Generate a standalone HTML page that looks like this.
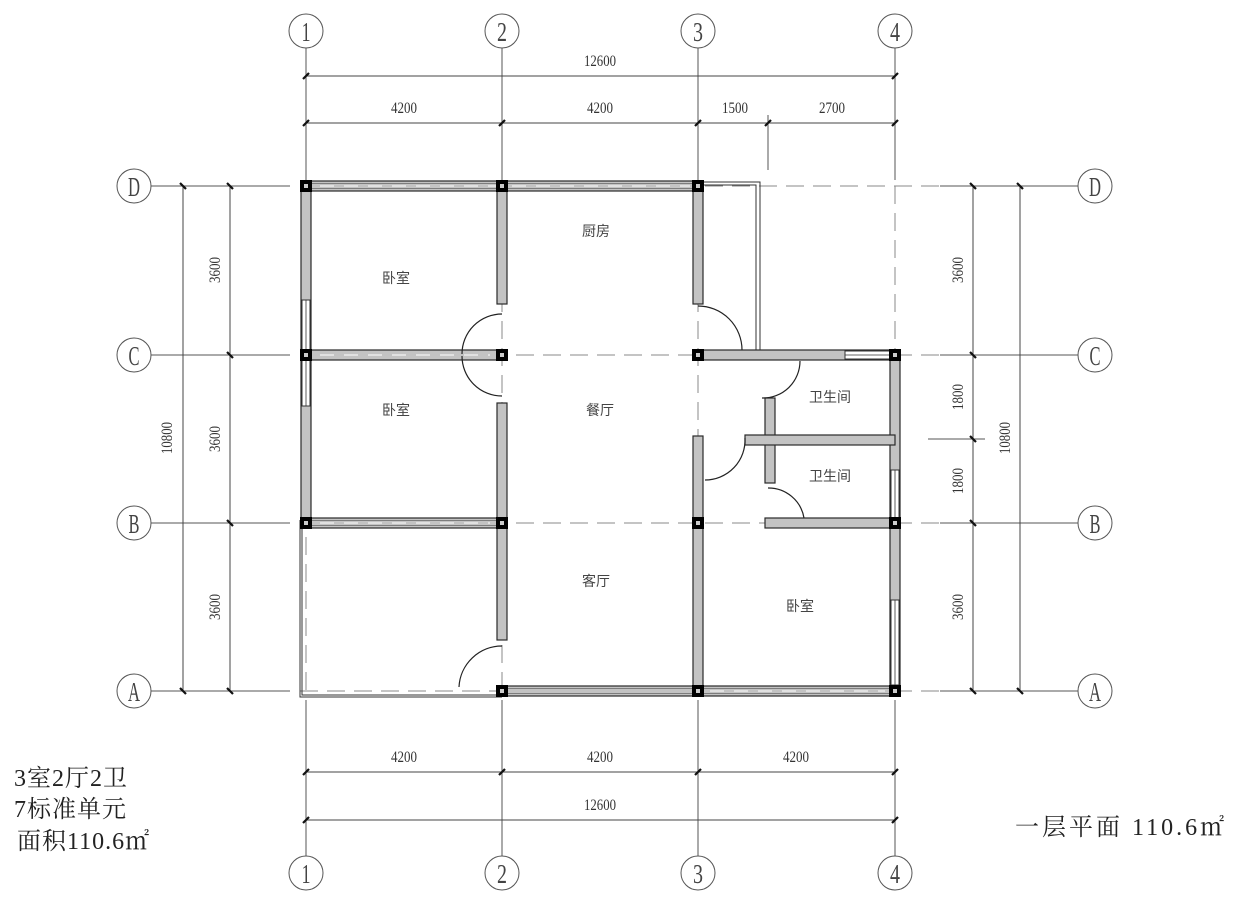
<!DOCTYPE html>
<html><head><meta charset="utf-8"><style>
html,body{margin:0;padding:0;background:#fff;}
svg{display:block;}
.g{stroke:#555;stroke-width:1;fill:none}
.gd{stroke:#888;stroke-width:1;fill:none;stroke-dasharray:18 9}
.d{stroke:#444;stroke-width:1;fill:none}
.t{stroke:#111;stroke-width:2.2}
.w{fill:#c3c3c3;stroke:#2a2a2a;stroke-width:1.2}
.win{fill:#fff;stroke:#333;stroke-width:1}
.arc{stroke:#222;stroke-width:1.2;fill:none}
.n{font-family:"Liberation Serif",serif;font-size:16px;fill:#333}
.b{font-family:"Liberation Serif",serif;font-size:27px;fill:#444}
.r{font-family:"Liberation Sans","Noto Sans CJK SC",sans-serif;font-size:14px;fill:#444}
.big{font-family:"Liberation Serif","Noto Serif CJK SC",serif;font-size:24px;fill:#222;letter-spacing:1px}
</style></head><body>
<svg width="1247" height="902" viewBox="0 0 1247 902" xmlns="http://www.w3.org/2000/svg">
<g class="g">
<line x1="306" y1="48" x2="306" y2="180"/><line x1="306" y1="700" x2="306" y2="856"/>
<line x1="502" y1="48" x2="502" y2="180"/><line x1="502" y1="700" x2="502" y2="856"/>
<line x1="698" y1="48" x2="698" y2="180"/><line x1="698" y1="700" x2="698" y2="856"/>
<line x1="895" y1="48" x2="895" y2="180"/><line x1="895" y1="700" x2="895" y2="856"/>
<line x1="768" y1="115" x2="768" y2="170"/>
<line x1="151" y1="186" x2="290" y2="186"/><line x1="151" y1="355" x2="290" y2="355"/>
<line x1="151" y1="523" x2="290" y2="523"/><line x1="151" y1="691" x2="290" y2="691"/>
<line x1="940" y1="186" x2="1078" y2="186"/><line x1="940" y1="355" x2="1078" y2="355"/>
<line x1="940" y1="523" x2="1078" y2="523"/><line x1="940" y1="691" x2="1078" y2="691"/>
<line x1="928" y1="439" x2="985" y2="439"/>
</g>
<g class="gd">
<line x1="306" y1="186" x2="306" y2="691"/><line x1="502" y1="186" x2="502" y2="691"/>
<line x1="698" y1="186" x2="698" y2="691"/><line x1="895" y1="186" x2="895" y2="691"/>
<line x1="300" y1="186" x2="940" y2="186"/><line x1="300" y1="355" x2="940" y2="355"/>
<line x1="300" y1="523" x2="940" y2="523"/><line x1="300" y1="691" x2="940" y2="691"/>
</g>
<g class="d">
<line x1="306" y1="76" x2="895" y2="76"/>
<line x1="306" y1="123" x2="895" y2="123"/>
<line x1="306" y1="772" x2="895" y2="772"/>
<line x1="306" y1="820" x2="895" y2="820"/>
<line x1="183" y1="186" x2="183" y2="691"/>
<line x1="230" y1="186" x2="230" y2="691"/>
<line x1="973" y1="186" x2="973" y2="691"/>
<line x1="1020" y1="186" x2="1020" y2="691"/>
</g>
<g class="t">
<line x1="303" y1="79" x2="309" y2="73"/><line x1="892" y1="79" x2="898" y2="73"/>
<line x1="303" y1="126" x2="309" y2="120"/><line x1="499" y1="126" x2="505" y2="120"/><line x1="695" y1="126" x2="701" y2="120"/><line x1="765" y1="126" x2="771" y2="120"/><line x1="892" y1="126" x2="898" y2="120"/>
<line x1="303" y1="775" x2="309" y2="769"/><line x1="499" y1="775" x2="505" y2="769"/><line x1="695" y1="775" x2="701" y2="769"/><line x1="892" y1="775" x2="898" y2="769"/>
<line x1="303" y1="823" x2="309" y2="817"/><line x1="892" y1="823" x2="898" y2="817"/>
<line x1="180" y1="183" x2="186" y2="189"/><line x1="180" y1="688" x2="186" y2="694"/>
<line x1="227" y1="183" x2="233" y2="189"/><line x1="227" y1="352" x2="233" y2="358"/><line x1="227" y1="520" x2="233" y2="526"/><line x1="227" y1="688" x2="233" y2="694"/>
<line x1="970" y1="183" x2="976" y2="189"/><line x1="970" y1="352" x2="976" y2="358"/><line x1="970" y1="436" x2="976" y2="442"/><line x1="970" y1="520" x2="976" y2="526"/><line x1="970" y1="688" x2="976" y2="694"/>
<line x1="1017" y1="183" x2="1023" y2="189"/><line x1="1017" y1="688" x2="1023" y2="694"/>
</g>
<g class="n" text-anchor="middle">
<text x="600" y="66" textLength="32" lengthAdjust="spacingAndGlyphs">12600</text>
<text x="404" y="113" textLength="26" lengthAdjust="spacingAndGlyphs">4200</text>
<text x="600" y="113" textLength="26" lengthAdjust="spacingAndGlyphs">4200</text>
<text x="735" y="113" textLength="26" lengthAdjust="spacingAndGlyphs">1500</text>
<text x="832" y="113" textLength="26" lengthAdjust="spacingAndGlyphs">2700</text>
<text x="404" y="762" textLength="26" lengthAdjust="spacingAndGlyphs">4200</text>
<text x="600" y="762" textLength="26" lengthAdjust="spacingAndGlyphs">4200</text>
<text x="796" y="762" textLength="26" lengthAdjust="spacingAndGlyphs">4200</text>
<text x="600" y="810" textLength="32" lengthAdjust="spacingAndGlyphs">12600</text>
<text transform="translate(172,438) rotate(-90)" textLength="32" lengthAdjust="spacingAndGlyphs">10800</text>
<text transform="translate(220,270) rotate(-90)" textLength="26" lengthAdjust="spacingAndGlyphs">3600</text>
<text transform="translate(220,439) rotate(-90)" textLength="26" lengthAdjust="spacingAndGlyphs">3600</text>
<text transform="translate(220,607) rotate(-90)" textLength="26" lengthAdjust="spacingAndGlyphs">3600</text>
<text transform="translate(963,270) rotate(-90)" textLength="26" lengthAdjust="spacingAndGlyphs">3600</text>
<text transform="translate(963,397) rotate(-90)" textLength="26" lengthAdjust="spacingAndGlyphs">1800</text>
<text transform="translate(963,481) rotate(-90)" textLength="26" lengthAdjust="spacingAndGlyphs">1800</text>
<text transform="translate(963,607) rotate(-90)" textLength="26" lengthAdjust="spacingAndGlyphs">3600</text>
<text transform="translate(1010,438) rotate(-90)" textLength="32" lengthAdjust="spacingAndGlyphs">10800</text>
</g>
<g fill="#fff" stroke="#555" stroke-width="1">
<circle cx="306" cy="31" r="17"/><circle cx="502" cy="31" r="17"/><circle cx="698" cy="31" r="17"/><circle cx="895" cy="31" r="17"/>
<circle cx="306" cy="873" r="17"/><circle cx="502" cy="873" r="17"/><circle cx="698" cy="873" r="17"/><circle cx="895" cy="873" r="17"/>
<circle cx="134" cy="186" r="17"/><circle cx="134" cy="355" r="17"/><circle cx="134" cy="523" r="17"/><circle cx="134" cy="691" r="17"/>
<circle cx="1095" cy="186" r="17"/><circle cx="1095" cy="355" r="17"/><circle cx="1095" cy="523" r="17"/><circle cx="1095" cy="691" r="17"/>
</g>
<g class="b" text-anchor="middle">
<text x="306" y="41" textLength="9" lengthAdjust="spacingAndGlyphs">1</text><text x="502" y="41" textLength="10" lengthAdjust="spacingAndGlyphs">2</text><text x="698" y="41" textLength="10" lengthAdjust="spacingAndGlyphs">3</text><text x="895" y="41" textLength="10" lengthAdjust="spacingAndGlyphs">4</text>
<text x="306" y="883" textLength="9" lengthAdjust="spacingAndGlyphs">1</text><text x="502" y="883" textLength="10" lengthAdjust="spacingAndGlyphs">2</text><text x="698" y="883" textLength="10" lengthAdjust="spacingAndGlyphs">3</text><text x="895" y="883" textLength="10" lengthAdjust="spacingAndGlyphs">4</text>
<text x="134" y="196" textLength="12" lengthAdjust="spacingAndGlyphs">D</text><text x="134" y="365" textLength="11" lengthAdjust="spacingAndGlyphs">C</text><text x="134" y="533" textLength="11" lengthAdjust="spacingAndGlyphs">B</text><text x="134" y="701" textLength="12" lengthAdjust="spacingAndGlyphs">A</text>
<text x="1095" y="196" textLength="12" lengthAdjust="spacingAndGlyphs">D</text><text x="1095" y="365" textLength="11" lengthAdjust="spacingAndGlyphs">C</text><text x="1095" y="533" textLength="11" lengthAdjust="spacingAndGlyphs">B</text><text x="1095" y="701" textLength="12" lengthAdjust="spacingAndGlyphs">A</text>
</g>
<g stroke="#333" stroke-width="1" fill="none">
<polyline points="698,182 760,182 760,350"/>
<polyline points="698,185 756,185 756,350"/>
<polyline points="300,520 300,697 502,697"/>
<polyline points="302,520 302,695 502,695"/>
</g>
<g class="w">
<rect x="306" y="181" width="392" height="10"/>
<rect x="301" y="186" width="10" height="337"/>
<rect x="497" y="186" width="10" height="118"/>
<rect x="497" y="403" width="10" height="237"/>
<rect x="693" y="186" width="10" height="118"/>
<rect x="693" y="436" width="10" height="255"/>
<rect x="306" y="350" width="196" height="10"/>
<rect x="698" y="350" width="197" height="10"/>
<rect x="306" y="518" width="196" height="10"/>
<rect x="765" y="518" width="130" height="10"/>
<rect x="890" y="355" width="10" height="336"/>
<rect x="502" y="686" width="393" height="10"/>
<rect x="765" y="398" width="10" height="85"/>
<rect x="745" y="435" width="150" height="10"/>
</g>
<g stroke="#666" stroke-width="0.8">
<line x1="306" y1="183.5" x2="698" y2="183.5"/><line x1="306" y1="188.5" x2="698" y2="188.5"/>
<line x1="306" y1="520.5" x2="502" y2="520.5"/><line x1="306" y1="525.5" x2="502" y2="525.5"/>
<line x1="502" y1="688.5" x2="895" y2="688.5"/><line x1="502" y1="693.5" x2="895" y2="693.5"/>
</g>
<g stroke="#fff" stroke-width="1" stroke-dasharray="14 10">
<line x1="320" y1="186" x2="690" y2="186"/>
<line x1="320" y1="355" x2="490" y2="355"/>
<line x1="320" y1="523" x2="490" y2="523"/>
<line x1="710" y1="691" x2="885" y2="691"/>
</g>
<g class="win">
<rect x="302" y="300" width="8" height="55"/><rect x="302" y="358" width="8" height="48"/>
<rect x="845" y="351" width="48" height="8"/>
<rect x="891" y="470" width="8" height="50"/><rect x="891" y="600" width="8" height="85"/>
</g>
<g stroke="#333" stroke-width="0.8">
<line x1="306" y1="300" x2="306" y2="406"/><line x1="845" y1="355" x2="893" y2="355"/>
<line x1="895" y1="470" x2="895" y2="520"/><line x1="895" y1="600" x2="895" y2="685"/>
</g>
<g class="arc">
<path d="M502,314 A40,40 0 0 0 462,354"/>
<path d="M462,356 A40,40 0 0 0 502,396"/>
<path d="M502,646 A43,43 0 0 0 459,687"/>
<path d="M698,306 A44,44 0 0 1 742,350"/>
<path d="M705,480 A40,40 0 0 0 745,438"/>
<path d="M762,398 A37,37 0 0 0 800,361"/>
<path d="M768,488 A36,36 0 0 1 804,518"/>
</g>
<g fill="#000" stroke="#fff" stroke-width="0">
<rect x="300" y="180" width="12" height="12"/><rect x="496" y="180" width="12" height="12"/><rect x="692" y="180" width="12" height="12"/>
<rect x="300" y="349" width="12" height="12"/><rect x="496" y="349" width="12" height="12"/><rect x="692" y="349" width="12" height="12"/><rect x="889" y="349" width="12" height="12"/>
<rect x="300" y="517" width="12" height="12"/><rect x="496" y="517" width="12" height="12"/><rect x="692" y="517" width="12" height="12"/><rect x="889" y="517" width="12" height="12"/>
<rect x="496" y="685" width="12" height="12"/><rect x="692" y="685" width="12" height="12"/><rect x="889" y="685" width="12" height="12"/>
</g>
<g fill="#ccc">
<rect x="304" y="184" width="4" height="4"/><rect x="500" y="184" width="4" height="4"/><rect x="696" y="184" width="4" height="4"/>
<rect x="304" y="353" width="4" height="4"/><rect x="500" y="353" width="4" height="4"/><rect x="696" y="353" width="4" height="4"/><rect x="893" y="353" width="4" height="4"/>
<rect x="304" y="521" width="4" height="4"/><rect x="500" y="521" width="4" height="4"/><rect x="696" y="521" width="4" height="4"/><rect x="893" y="521" width="4" height="4"/>
<rect x="500" y="689" width="4" height="4"/><rect x="696" y="689" width="4" height="4"/><rect x="893" y="689" width="4" height="4"/>
</g>
<g class="r" text-anchor="middle">
<text x="396" y="283">卧室</text>
<text x="596" y="236">厨房</text>
<text x="396" y="415">卧室</text>
<text x="600" y="415">餐厅</text>
<text x="830" y="402">卫生间</text>
<text x="830" y="481">卫生间</text>
<text x="596" y="586">客厅</text>
<text x="800" y="611">卧室</text>
</g>
<g class="big">
<text x="14" y="786">3室2厅2卫</text>
<text x="14" y="817">7标准单元</text>
<text x="17" y="849">面积110.6㎡</text>
<text x="1015" y="835" letter-spacing="3">一层平面 110.6㎡</text>
</g>
</svg>
</body></html>
